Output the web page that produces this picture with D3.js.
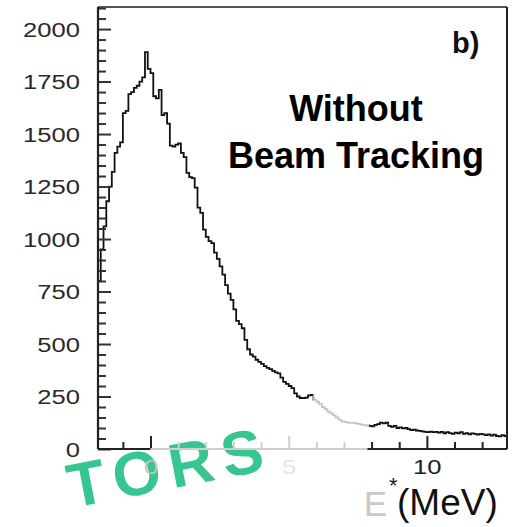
<!DOCTYPE html>
<html><head><meta charset="utf-8">
<script src="https://cdn.jsdelivr.net/npm/d3@7"></script>
<style>body{margin:0;background:#fff}svg{display:block}</style>
</head><body>
<svg id="c" width="514" height="527"></svg>
<script>
// ---- data ----
const binStart = -1.9, binWidth = 0.1;
const counts = [
 800, 950,1060,1180,1250,1320,1410,1440,1460,1600,
1610,1690,1700,1720,1730,1750,1770,1890,1810,1790,
1680,1670,1710,1590,1600,1550,1445,1440,1450,1455,
1410,1390,1315,1295,1290,1245,1150,1125,1045,1010,
 990, 980, 935, 905, 870, 830, 780, 740, 710, 665,
 610, 595, 575, 520, 475, 450, 440, 425, 415, 405,
 395, 386, 380, 372, 365, 360, 340, 320, 310, 300,
 290, 265, 250, 243, 242, 245, 255, 258, 235, 225,
 215, 200, 190, 178, 170, 160, 150, 140, 132, 129,
 126, 124, 124, 122, 120, 116, 114, 112, 110, 108,
 115, 118, 126, 122, 125, 110, 105, 110, 100, 103,
  98, 100,  95,  90,  92,  88,  86,  84,  82,  80,
  83,  80,  82,  78,  82,  75,  80,  76,  72,  78,
  75,  80,  72,  76,  70,  74,  72,  68,  72,  70,
  66,  70,  64,  68,  62,  60,  66,  62
];
const fadedRange = [5.9, 7.9];
const yMajorTicks = [0,250,500,750,1000,1250,1500,1750,2000];
const xMajorTicks = [0,5,10];
const xMinorTicks = [-1,1,2,3,4,6,7,8,9,11,12];
const xTickLabels = ["0","5","10"];
const textLines = ["Without","Beam Tracking"];
const panelLabel = "b)";
const watermark = "TORS";

const svg = d3.select("#c");
const x = d3.scaleLinear().domain([-1.9, 12.9]).range([98, 507]);
const y = d3.scaleLinear().domain([0, 2105]).range([449, 7]);
const faded = v => v >= 0.5 && v < fadedRange[1];

// watermark (drawn first, behind the chart; kept inside the picture)
const tf = "'Liberation Sans',Arial,sans-serif";
const wm = svg.append("g").attr("transform","translate(72,508) rotate(-11)");
wm.append("text").attr("x",0).attr("y",0).style("font-family",tf).style("font-size","62px")
  .style("letter-spacing","9px")
  .style("font-weight","bold").attr("fill","#2dc48b").attr("opacity",0.95).text(watermark);

// histogram
const pts = counts.map((c,i)=>[binStart+i*binWidth, c]);
pts.push([binStart+counts.length*binWidth, counts[counts.length-1]]);
const line = d3.line().x(d=>x(d[0])).y(d=>y(d[1])).curve(d3.curveStepAfter);
const defs = svg.append("defs");
defs.append("clipPath").attr("id","fadeClip").append("rect")
  .attr("x", x(fadedRange[0])).attr("y",0).attr("width", x(fadedRange[1])-x(fadedRange[0])).attr("height",527);
defs.append("clipPath").attr("id","darkClip").append("path")
  .attr("d", `M0,0H${x(fadedRange[0])}V527H0Z M${x(fadedRange[1])},0H514V527H${x(fadedRange[1])}Z`);
svg.append("path").attr("d", line(pts)).attr("fill","none").attr("stroke","#111")
  .attr("stroke-width",1.8).attr("clip-path","url(#darkClip)");
svg.append("path").attr("d", line(pts)).attr("fill","none").attr("stroke","#c4c4c4")
  .attr("stroke-width",1.8).attr("clip-path","url(#fadeClip)");

// frame top & right
svg.append("line").attr("x1",x(-1.9)).attr("x2",x(12.9)).attr("y1",y(2105)).attr("y2",y(2105))
  .attr("stroke","#555").attr("stroke-width",2);
svg.append("line").attr("x1",x(12.9)).attr("x2",x(12.9)).attr("y1",y(2105)).attr("y2",y(0))
  .attr("stroke","#222").attr("stroke-width",2);

// y axis
const yMinor = d3.range(0, 2101, 50).filter(v=>v%250!==0);
const yAxMinor = svg.append("g").attr("transform",`translate(${x(-1.9)},0)`)
  .call(d3.axisLeft(y).tickValues(yMinor).tickSize(-8).tickFormat(""));
const yAx = svg.append("g").attr("transform",`translate(${x(-1.9)},0)`)
  .call(d3.axisLeft(y).tickValues(yMajorTicks).tickSize(-13).tickPadding(18).tickFormat(d3.format("d")));
[yAx,yAxMinor].forEach(g=>{g.select(".domain").remove(); g.selectAll("line").attr("stroke","#333").attr("stroke-width",2);});
svg.append("line").attr("x1",x(-1.9)).attr("x2",x(-1.9)).attr("y1",y(2105)).attr("y2",y(0))
  .attr("stroke","#222").attr("stroke-width",2.2);
yAx.selectAll("text").attr("x",0).attr("dy","0.36em")
  .attr("transform","translate(-18,0) scale(1.28,1)")
  .style("font-family",tf).style("font-size","20px").attr("fill","#2a2a2a");

// x axis
const xAxMinor = svg.append("g").attr("transform",`translate(0,${y(0)})`)
  .call(d3.axisBottom(x).tickValues(xMinorTicks).tickSize(-7).tickFormat(""));
const xAx = svg.append("g").attr("transform",`translate(0,${y(0)})`)
  .call(d3.axisBottom(x).tickValues(xMajorTicks).tickSize(-13).tickPadding(11).tickFormat((d,i)=>xTickLabels[i]));
[xAx,xAxMinor].forEach(g=>{g.select(".domain").remove();
  g.selectAll(".tick line").attr("stroke",d=>faded(d)?"#d0d0d0":"#222").attr("stroke-width",2);});
xAx.selectAll(".tick line").attr("stroke",d=>d===5?"#d0d0d0":"#222");
xAx.selectAll("text").attr("x",0).attr("transform","scale(1.28,1)")
  .style("font-family",tf).style("font-size","20px")
  .attr("fill",d=>d===10?"#222":(d===5?"#e4e4e4":"#c4c4c4"));
// bottom axis line in three shades
[[-1.9,0,"#222"],[0,7.85,"#cfcfcf"],[7.85,12.9,"#222"]].forEach(s=>{
  svg.append("line").attr("x1",x(s[0])).attr("x2",x(s[1])).attr("y1",y(0)).attr("y2",y(0))
    .attr("stroke",s[2]).attr("stroke-width",2);
});

// axis title
svg.append("text").attr("x",387).attr("y",516).attr("text-anchor","end")
  .style("font-family",tf).style("font-size","35px").attr("fill","#c8c8c8").text("E");
svg.append("text").attr("x",389).attr("y",493)
  .style("font-family",tf).style("font-size","22px").attr("fill","#222").text("*");
svg.append("text").attr("x",397).attr("y",515)
  .style("font-family",tf).style("font-size","37px").attr("fill","#111").text("(MeV)");

// annotations
svg.append("text").attr("x",452).attr("y",53)
  .style("font-family",tf).style("font-size","29px").style("font-weight","bold").attr("fill","#111").text(panelLabel);
svg.selectAll("text.note").data(textLines).enter().append("text").attr("class","note")
  .attr("x",356).attr("y",(d,i)=>121+i*47).attr("text-anchor","middle")
  .style("font-family",tf).style("font-size","36px").style("font-weight","bold").attr("fill","#000")
  .text(d=>d);
</script>
</body></html>
